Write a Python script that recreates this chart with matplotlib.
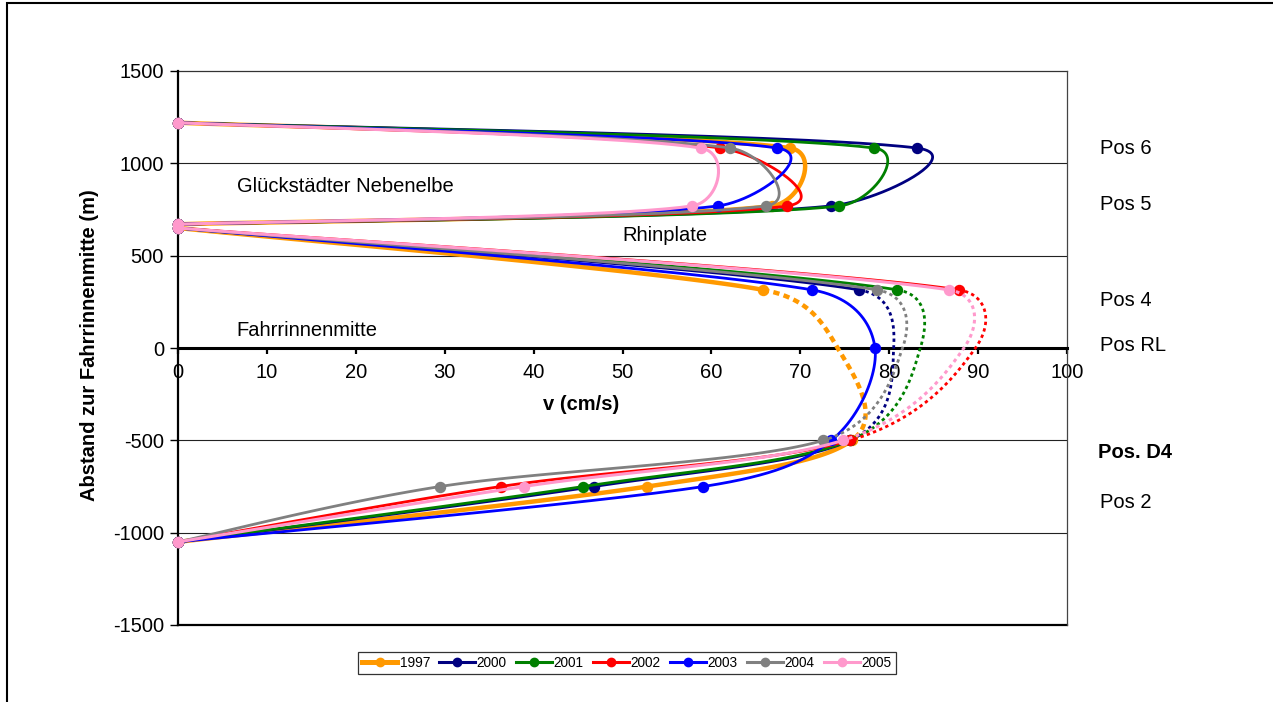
import numpy as np
import matplotlib
matplotlib.use("Agg")
import matplotlib.pyplot as plt
from matplotlib.lines import Line2D
from matplotlib.patches import Rectangle

plt.rcParams['font.family'] = ['Liberation Sans', 'DejaVu Sans']
plt.rcParams['axes.unicode_minus'] = False

years = ["1997", "2000", "2001", "2002", "2003", "2004", "2005"]
colors = ["#FF9900", "#000080", "#008000", "#FF0000", "#0000FF", "#808080", "#FF99CC"]
widths = [3.2, 2.0, 2.0, 2.0, 2.0, 2.0, 2.2]

# station distances from the fairway centre (m)
y_upper = [1220, 1083, 769, 670]            # Glückstädter Nebenelbe: bank, Pos 6, Pos 5, bank
y_lower = [650, 315, 0, -500, -750, -1050]  # bank, Pos 4, Pos RL, Pos. D4, Pos 2, bank

# flow velocities (cm/s) per year
v_pos6 = [68.8, 83.1, 78.3, 61.0, 67.4, 62.1, 58.8]
v_pos5 = [66.8, 73.4, 74.4, 68.5, 60.7, 66.1, 57.8]
v_pos4 = [65.8, 76.6, 80.9, 87.8, 71.3, 78.6, 86.7]
v_posRL = [74.2, 80.5, 83.5, 89.7, 78.4, 81.5, 88.4]
v_posD4 = [75.8, 75.6, 75.6, 75.6, 73.5, 72.6, 74.8]
v_pos2 = [52.8, 46.8, 45.6, 36.3, 59.1, 29.5, 38.9]
rl_measured = [False, False, False, False, True, False, False]

W, H = 1273, 702
fig = plt.figure(figsize=(W / 100, H / 100), dpi=100)
ax = fig.add_axes([178 / W, 1 - 625 / H, (1067 - 178) / W, (625 - 71) / H])
ax.set_xlim(0, 100)
ax.set_ylim(-1500, 1500)


def fx(px):
    return px / W


def fy(py):
    return 1 - py / H


def smooth(xs, ys, n=50):
    """Bezier smoothing in display space, one curve per segment."""
    pts = ax.transData.transform(np.column_stack([xs, ys]))
    m = len(pts)
    inv = ax.transData.inverted()
    out = []
    for i in range(m - 1):
        p0 = pts[max(i - 1, 0)]
        p1 = pts[i]
        p2 = pts[i + 1]
        p3 = pts[min(i + 2, m - 1)]
        seg = np.linalg.norm(p2 - p1)

        def arm(a, b):
            d = b - a
            L = np.linalg.norm(d)
            if L == 0:
                return np.zeros(2)
            return d / L * min(L / 6.0, 0.5 * seg)

        c1 = p1 + arm(p0, p2)
        c2 = p2 - arm(p1, p3)
        t = np.linspace(0, 1, n)[:, None]
        b = (1 - t) ** 3 * p1 + 3 * (1 - t) ** 2 * t * c1 + 3 * (1 - t) * t ** 2 * c2 + t ** 3 * p2
        out.append(inv.transform(b))
    return out


def join(segs):
    return np.vstack(segs)


ms = 7.2
for k, (yr, col, lw) in enumerate(zip(years, colors, widths)):
    z = 3 + k
    # upper section
    xu = [0, v_pos6[k], v_pos5[k], 0]
    cu = join(smooth(xu, y_upper))
    ax.plot(cu[:, 0], cu[:, 1], color=col, lw=lw, solid_capstyle='round', zorder=z)
    ax.plot(xu, y_upper, 'o', color=col, ms=ms, zorder=z, clip_on=False)

    # lower section
    xl = [0, v_pos4[k], v_posRL[k], v_posD4[k], v_pos2[k], 0]
    segs = smooth(xl, y_lower)
    if rl_measured[k]:
        c = join(segs)
        ax.plot(c[:, 0], c[:, 1], color=col, lw=lw, solid_capstyle='round', zorder=z)
        ax.plot(xl, y_lower, 'o', color=col, ms=ms, zorder=z, clip_on=False)
    else:
        a = segs[0]
        d = join(segs[1:3])
        b = join(segs[3:])
        ax.plot(a[:, 0], a[:, 1], color=col, lw=lw, solid_capstyle='round', zorder=z)
        ax.plot(b[:, 0], b[:, 1], color=col, lw=lw, solid_capstyle='round', zorder=z)
        dash = (1.4, 1.0) if lw > 3 else (1.2, 1.2)
        ax.plot(d[:, 0], d[:, 1], color=col, lw=lw, linestyle=(0, dash), zorder=z)
        mx = [xl[i] for i in range(len(xl)) if i != 2]
        my = [y_lower[i] for i in range(len(y_lower)) if i != 2]
        ax.plot(mx, my, 'o', color=col, ms=ms, zorder=z, clip_on=False)

# gridlines and frame
for yv in (-1000, -500, 500, 1000):
    ax.axhline(yv, color='#222222', lw=0.8, zorder=1)
ax.axhline(-1500, color='black', lw=1.6, zorder=2, clip_on=False)
ax.axhline(1500, color='#333333', lw=0.9, zorder=2, clip_on=False)

ax.spines['top'].set_visible(False)
ax.spines['right'].set_color('#444444')
ax.spines['right'].set_linewidth(0.9)
ax.spines['left'].set_linewidth(1.6)
ax.spines['bottom'].set_position(('data', 0))
ax.spines['bottom'].set_linewidth(2.2)
ax.spines['bottom'].set_zorder(2.5)
ax.spines['left'].set_zorder(2.5)

ax.set_xticks(np.arange(0, 101, 10))
ax.set_yticks(np.arange(-1500, 1501, 500))
ax.tick_params(axis='x', direction='out', length=4, width=1.6, pad=7, labelsize=14.5)
ax.tick_params(axis='y', direction='out', length=6, width=1.0, pad=4, labelsize=14.5)

# axis titles
fig.text(fx(543), fy(405), "v (cm/s)", fontsize=14.5, fontweight='bold', ha='left', va='center')
fig.text(fx(90), fy(345), "Abstand zur Fahrrinnenmitte (m)", fontsize=14.5, fontweight='bold',
         rotation=90, ha='center', va='center')

# section annotations
fig.text(fx(237), fy(186), "Glückstädter Nebenelbe", fontsize=14.5, ha='left', va='center')
fig.text(fx(665), fy(235), "Rhinplate", fontsize=14.5, ha='center', va='center')
fig.text(fx(236), fy(330), "Fahrrinnenmitte", fontsize=14.5, ha='left', va='center')

pos_labels = [("Pos 6", 148, 'normal'), ("Pos 5", 204, 'normal'), ("Pos 4", 300, 'normal'),
              ("Pos RL", 346, 'normal'), ("Pos. D4", 452, 'bold'), ("Pos 2", 502, 'normal')]
for txt, py, wt in pos_labels:
    fig.text(fx(1098 if wt == 'bold' else 1100), fy(py), txt, fontsize=14.5, fontweight=wt,
             ha='left', va='center')

# legend
handles = [Line2D([], [], color=c, lw=(3.6 if i == 0 else 2.2), marker='o', ms=6)
           for i, c in enumerate(colors)]
leg = fig.legend(handles, years, loc='center', bbox_to_anchor=(fx(627), fy(663)), ncol=7,
                 fontsize=9.8, frameon=True, fancybox=False, edgecolor='black',
                 handlelength=2.6, handletextpad=0.15, columnspacing=0.7,
                 borderpad=0.3, borderaxespad=0)
leg.get_frame().set_linewidth(0.9)

# outer chart border
fig.patches.append(Rectangle((fx(7), -0.1), 2.0, fy(3) + 0.1, transform=fig.transFigure,
                             fill=False, edgecolor='black', lw=1.5))

fig.savefig("out.png", dpi=100)
